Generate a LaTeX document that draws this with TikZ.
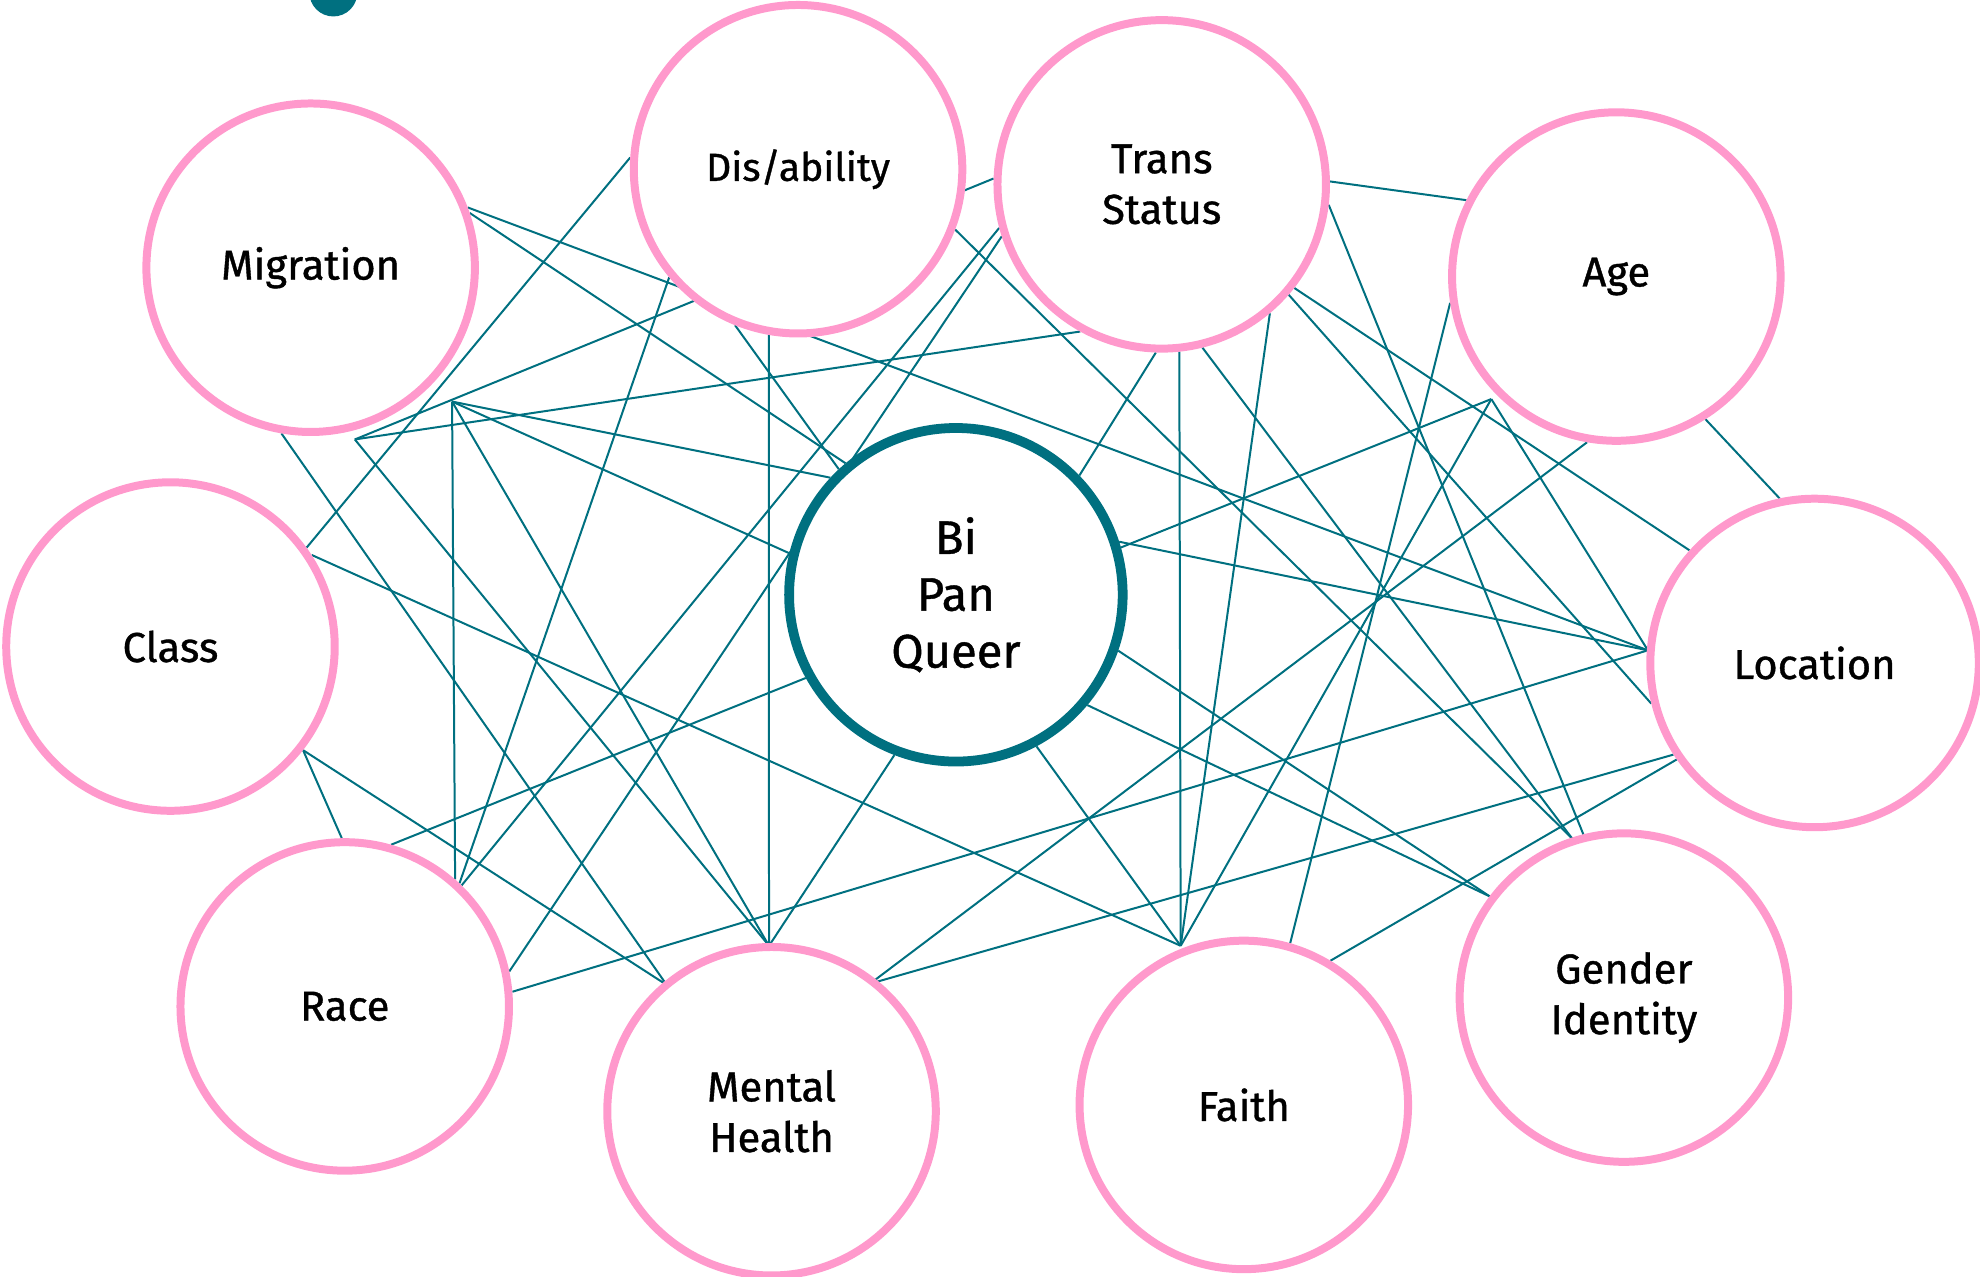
\documentclass[tikz,border=0pt]{standalone}
\usepackage{fontspec}
\setmainfont{Fira Sans}[UprightFeatures={FakeBold=0.9}]
\usepackage{tikz}
\usetikzlibrary{positioning}

\definecolor{ringpink}{RGB}{255,153,204}
\definecolor{linkteal}{RGB}{0,112,128}

\pgfdeclarelayer{back}
\pgfsetlayers{back,main}

\begin{document}
\begin{tikzpicture}[x=0.01cm, y=-0.01cm,
  topic/.style = {draw = ringpink, line width = 1.8pt, fill = white, shape = circle, minimum size = 2.6cm, inner sep = 0pt, align = center, font = \fontsize{9.4}{11.4}\selectfont},
  core/.style = {draw = linkteal, line width = 2.2pt, fill = white, shape = circle, minimum size = 2.64cm, inner sep = 0pt, align = center, font = \fontsize{10.6}{12.8}\selectfont},
  link/.style = {draw = linkteal, line width = 0.45pt}]
\useasboundingbox (0,0) rectangle (1568,1011);
\fill[linkteal] (264,-6) circle (0.19cm);

\node[topic] (mig) at (246,212) {Migration};
\node[topic, font = \fontsize{8.8}{10}\selectfont] (dis) at (632,134) {Dis/ability};
\node[topic] (trans) at (920,146) {Trans\\Status};
\node[topic] (age) at (1280,219) {Age};
\node[topic] (cls) at (135,512) {Class};
\node[core] (bpq) at (757,471) {Bi\\Pan\\Queer};
\node[topic] (loc) at (1437,525) {Location};
\node[topic] (race) at (273,797) {Race};
\node[topic] (mh) at (611,880) {Mental\\Health};
\node[topic] (faith) at (985,875) {Faith};
\node[topic] (gend) at (1286,790) {Gender\\Identity};

\coordinate (p1) at (358,318);
\coordinate (p2) at (281,348);
\coordinate (p3) at (609,749);
\coordinate (p4) at (935,749);
\coordinate (p5) at (689,779);
\coordinate (p6) at (1181,316);
\coordinate (p7) at (1305,515);
\coordinate (p9) at (528,780);
\coordinate (ga) at (1245,664);
\coordinate (gb) at (1254,661);
\coordinate (gc) at (1180,710);

\begin{pgfonlayer}{back}
\draw[link] (mig.21) -- (p7);
\draw[link] (mig.19) -- (bpq.130);
\draw[link] (mig.-100) -- (p9);
\draw[link] (cls.36) -- (dis.176);
\draw[link] (cls.33) -- (p4);
\draw[link] (cls.-38) -- (race.91);
\draw[link] (cls.-38) -- (p9);
\draw[link] (p2) -- (trans.178);
\draw[link] (p2) -- (trans.-119);
\draw[link] (p2) -- (p3);
\draw[link] (p1) -- (bpq.137);
\draw[link] (p1) -- (bpq.166);
\draw[link] (p1) -- (race.49);
\draw[link] (p1) -- (p3);
\draw[link] (dis.-140) -- (race.47);
\draw[link] (dis.-112) -- (bpq.133);
\draw[link] (dis.-100) -- (p3);
\draw[link] (dis.-21) -- (ga);
\draw[link] (trans.-165) -- (race.46);
\draw[link] (trans.-162) -- (race.12);
\draw[link] (trans.-92) -- (bpq.44);
\draw[link] (trans.-84) -- (p4);
\draw[link] (trans.-76) -- (ga);
\draw[link] (trans.-50) -- (p4);
\draw[link] (trans.-38) -- (loc.138);
\draw[link] (trans.-41) -- (loc.-166);
\draw[link] (trans.-7) -- (gb);
\draw[link] (trans.1) -- (age.153);
\draw[link] (age.-171) -- (faith.74);
\draw[link] (age.-100) -- (p5);
\draw[link] (age.-58) -- (loc.102);
\draw[link] (p6) -- (bpq.16);
\draw[link] (p6) -- (p7);
\draw[link] (p6) -- (p4);
\draw[link] (bpq.18) -- (p7);
\draw[link] (race.5) -- (p7);
\draw[link] (loc.-147) -- (p5);
\draw[link] (loc.-145) -- (faith.59);
\draw[link] (bpq.-151) -- (race.74);
\draw[link] (bpq.-111) -- (p3);
\draw[link] (bpq.-62) -- (p4);
\draw[link] (bpq.-40) -- (gc);
\draw[link] (bpq.-19) -- (gc);
\end{pgfonlayer}
\end{tikzpicture}
\end{document}
